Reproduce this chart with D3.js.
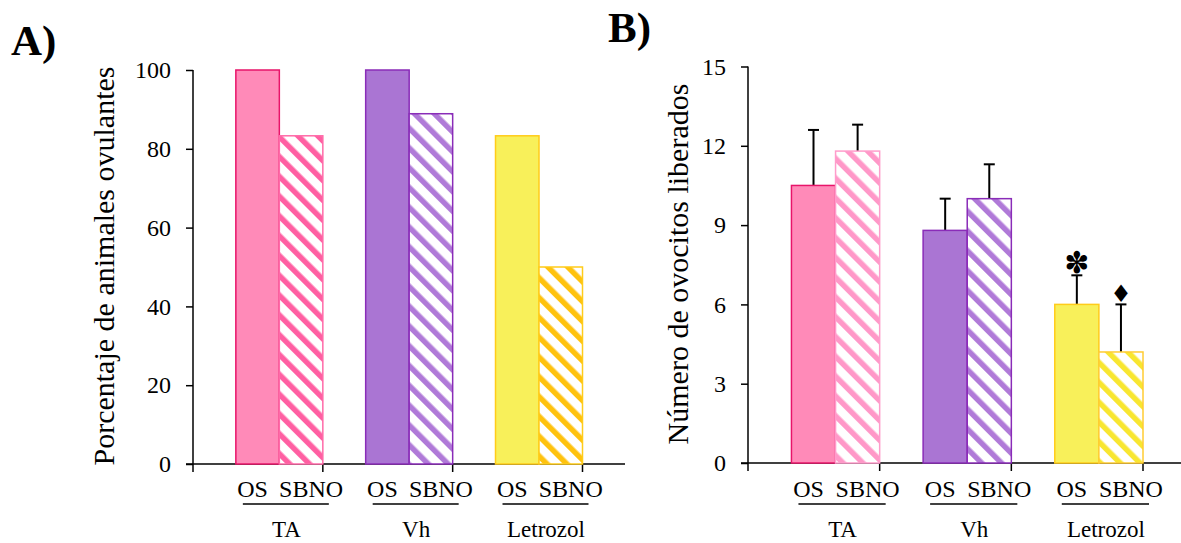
<!DOCTYPE html>
<html>
<head>
  <meta charset="utf-8">
  <title>Ovulación</title>
  <script src="https://cdnjs.cloudflare.com/ajax/libs/d3/7.8.5/d3.min.js"></script>
  <style>
    body { margin: 0; background: #fff; }
    text { font-family: "Liberation Serif", "Times New Roman", serif; fill: #000; }
    .axis path, .axis line { stroke: #000; stroke-width: 1.5px; }
  </style>
</head>
<body>
<svg width="1181" height="543"></svg>
<script>
// groups and series
var groups = ["TA", "Vh", "Letrozol"];
var series = ["OS", "SBNO"];

// A) porcentaje de animales ovulantes
var pctOS   = [100, 100, 83.3];
var pctSBNO = [83.3, 88.9, 50];
var pctTicks = [0, 20, 40, 60, 80, 100];

// B) numero de ovocitos liberados (media + EE)
var ovoOS    = [10.5, 8.8, 6.0];
var ovoSBNO  = [11.8, 10.0, 4.2];
var errOS    = [2.1, 1.2, 1.1];
var errSBNO  = [1.0, 1.3, 1.8];
var sigOS    = ["", "", "\u273D"];
var sigSBNO  = ["", "", "\u2666"];
var ovoTicks = [0, 3, 6, 9, 12, 15];

// colours per group
var fillOS   = ["#ff8ab8", "#aa75d3", "#f8f05a"];
var strokeOS = ["#e8146a", "#8a2cb8", "#ffcc1a"];
var stripeA  = ["#ff5fa2", "#b07ad8", "#ffc20e"];
var stripeB  = ["#ff98c8", "#b07ad8", "#f8e630"];
var borderA  = ["#ff6aa8", "#8a2cb8", "#ffcc1a"];
var borderB  = ["#ff9ccb", "#8a2cb8", "#ffcc33"];

var svg = d3.select("svg");
var defs = svg.append("defs");

function stripes(id, color) {
  var p = defs.append("pattern")
      .attr("id", id)
      .attr("patternUnits", "userSpaceOnUse")
      .attr("width", 14).attr("height", 14)
      .attr("patternTransform", "rotate(-45)");
  p.append("rect").attr("width", 14).attr("height", 14).attr("fill", "#fff");
  p.append("rect").attr("x", 0).attr("width", 5.5).attr("height", 14).attr("fill", color);
}
groups.forEach(function(g, i) {
  stripes("hA" + i, stripeA[i]);
  stripes("hB" + i, stripeB[i]);
});

function panel(opt) {
  var x = d3.scaleBand().domain(groups).range(opt.xr).paddingInner(0).paddingOuter(0);
  var bw = x.bandwidth();
  var sub = d3.scaleBand().domain(series).range([bw * 0.33, bw]);
  var y = d3.scaleLinear().domain(opt.domain).range(opt.yr);
  var g = svg.append("g");

  // y axis
  g.append("g").attr("class", "axis")
      .attr("transform", "translate(" + opt.xr[0] + ",0)")
      .call(d3.axisLeft(y).tickValues(opt.ticks).tickSize(7).tickSizeOuter(0).tickPadding(15))
      .call(function(a) {
        a.attr("font-family", null);
        a.select(".domain").attr("d", "M0," + opt.yr[0] + "V" + opt.yr[1]);
        a.selectAll("text").attr("font-size", 24)
          .style("font-family", "'Liberation Serif', 'Times New Roman', serif");
      });

  // x axis line with ticks between groups
  var xa = g.append("g").attr("class", "axis");
  xa.append("line")
      .attr("x1", opt.xr[0] - 7).attr("x2", opt.xEnd)
      .attr("y1", y(0)).attr("y2", y(0));
  xa.selectAll("line.tk").data([opt.xr[0]].concat(groups.map(function(d) { return x(d) + bw; })))
    .enter().append("line").attr("class", "tk")
      .attr("x1", function(d) { return d; }).attr("x2", function(d) { return d; })
      .attr("y1", y(0)).attr("y2", y(0) + 8);

  // bars
  var rows = [];
  groups.forEach(function(gr, i) {
    rows.push({g: gr, s: "OS", i: i, v: opt.os[i], e: opt.eos ? opt.eos[i] : null, m: opt.mos ? opt.mos[i] : ""});
    rows.push({g: gr, s: "SBNO", i: i, v: opt.sb[i], e: opt.esb ? opt.esb[i] : null, m: opt.msb ? opt.msb[i] : ""});
  });

  // error bars (drawn behind bars)
  var eb = g.selectAll("g.err").data(rows.filter(function(d) { return d.e != null; }))
    .enter().append("g").attr("class", "err");
  eb.append("line")
      .attr("x1", function(d) { return x(d.g) + sub(d.s) + sub.bandwidth() / 2; })
      .attr("x2", function(d) { return x(d.g) + sub(d.s) + sub.bandwidth() / 2; })
      .attr("y1", function(d) { return y(d.v); })
      .attr("y2", function(d) { return y(d.v + d.e); })
      .attr("stroke", "#000").attr("stroke-width", 2);
  eb.append("line")
      .attr("x1", function(d) { return x(d.g) + sub(d.s) + sub.bandwidth() / 2 - 5.5; })
      .attr("x2", function(d) { return x(d.g) + sub(d.s) + sub.bandwidth() / 2 + 5.5; })
      .attr("y1", function(d) { return y(d.v + d.e); })
      .attr("y2", function(d) { return y(d.v + d.e); })
      .attr("stroke", "#000").attr("stroke-width", 2);

  g.selectAll("rect.bar").data(rows).enter().append("rect").attr("class", "bar")
      .attr("x", function(d) { return x(d.g) + sub(d.s); })
      .attr("y", function(d) { return y(d.v); })
      .attr("width", sub.bandwidth())
      .attr("height", function(d) { return y(0) - y(d.v); })
      .attr("fill", function(d) { return d.s == "OS" ? fillOS[d.i] : "url(#" + opt.hatch + d.i + ")"; })
      .attr("stroke", function(d) { return d.s == "OS" ? strokeOS[d.i] : opt.border[d.i]; })
      .attr("stroke-width", 1.5);

  // significance marks
  g.selectAll("text.sig").data(rows.filter(function(d) { return d.m; }))
    .enter().append("text").attr("class", "sig")
      .attr("x", function(d) { return x(d.g) + sub(d.s) + sub.bandwidth() / 2; })
      .attr("y", function(d) { return y(d.v + d.e) - 2.5; })
      .attr("text-anchor", "middle")
      .style("font-family", "'DejaVu Sans', sans-serif")
      .attr("font-size", function(d) { return d.s == "OS" ? 30 : 24; })
      .text(function(d) { return d.m; });

  // category labels
  var lab = g.selectAll("g.lab").data(groups).enter().append("g").attr("class", "lab")
      .attr("transform", function(d) { return "translate(" + x(d) + ",0)"; });
  lab.append("text")
      .attr("x", sub("OS") + sub.bandwidth() / 2 - 5).attr("y", 497)
      .attr("text-anchor", "middle").attr("font-size", 24).text("OS");
  lab.append("text")
      .attr("x", sub("SBNO") + sub.bandwidth() / 2 + 10).attr("y", 497)
      .attr("text-anchor", "middle").attr("font-size", 24).text("SBNO");
  lab.append("line")
      .attr("x1", sub("OS") + 7).attr("x2", bw + 6)
      .attr("y1", 504).attr("y2", 504)
      .attr("stroke", "#000").attr("stroke-width", 1.5);
  lab.append("text")
      .attr("x", (sub("OS") + bw) / 2 + 7).attr("y", 537)
      .attr("text-anchor", "middle").attr("font-size", 23).text(function(d) { return d; });

  // y title
  svg.append("text")
      .attr("transform", "translate(" + opt.titleX + "," + opt.titleY + ") rotate(-90)")
      .attr("text-anchor", "middle").attr("dominant-baseline", "central")
      .attr("font-size", opt.titleSize).text(opt.title);

  // panel letter
  svg.append("text").attr("x", opt.letterX).attr("y", opt.letterY)
      .attr("font-size", 43).attr("font-weight", "bold").text(opt.letter);
}

panel({
  xr: [193, 582.5], xEnd: 625, yr: [464, 70], domain: [0, 100], ticks: pctTicks,
  os: pctOS, sb: pctSBNO, hatch: "hA", border: borderA,
  title: "Porcentaje de animales ovulantes", titleX: 103, titleY: 266, titleSize: 30,
  letter: "A)", letterX: 11, letterY: 55
});

panel({
  xr: [748, 1143], xEnd: 1181, yr: [463, 66.5], domain: [0, 15], ticks: ovoTicks,
  os: ovoOS, sb: ovoSBNO, eos: errOS, esb: errSBNO, mos: sigOS, msb: sigSBNO,
  hatch: "hB", border: borderB,
  title: "Número de ovocitos liberados", titleX: 677, titleY: 264, titleSize: 30,
  letter: "B)", letterX: 608, letterY: 42
});
</script>
</body>
</html>
